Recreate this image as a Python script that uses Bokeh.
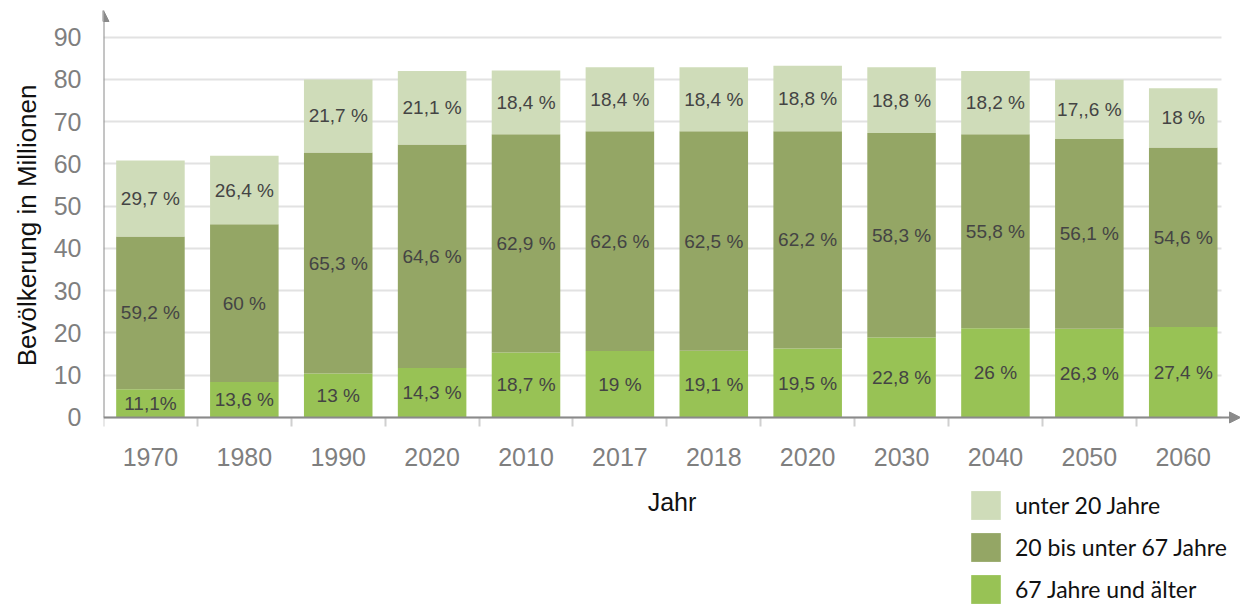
import numpy as np
from bokeh.plotting import figure
from bokeh.models import (ColumnDataSource, FixedTicker, Range1d, Arrow, NormalHead,
                          Legend, LegendItem, LabelSet, Title)
from bokeh.core.properties import value
from bokeh.embed import file_html
from bokeh.resources import INLINE

# ---- data (values in millions) ----
years = ["1970", "1980", "1990", "2020", "2010", "2017", "2018", "2020", "2030", "2040", "2050", "2060"]
old = [6.7, 8.4, 10.4, 11.7, 15.4, 15.7, 15.8, 16.3, 18.9, 21.1, 21.0, 21.4]
mid = [36.1, 37.3, 52.3, 52.9, 51.6, 52.0, 51.9, 51.4, 48.4, 45.9, 44.9, 42.5]
young = [18.0, 16.2, 17.3, 17.4, 15.1, 15.2, 15.2, 15.5, 15.6, 15.0, 14.0, 14.0]
old_pct = ["11,1%", "13,6 %", "13 %", "14,3 %", "18,7 %", "19 %", "19,1 %", "19,5 %", "22,8 %", "26 %", "26,3 %", "27,4 %"]
mid_pct = ["59,2 %", "60 %", "65,3 %", "64,6 %", "62,9 %", "62,6 %", "62,5 %", "62,2 %", "58,3 %", "55,8 %", "56,1 %", "54,6 %"]
young_pct = ["29,7 %", "26,4 %", "21,7 %", "21,1 %", "18,4 %", "18,4 %", "18,4 %", "18,8 %", "18,8 %", "18,2 %", "17,,6 %", "18 %"]
y_ticks = [0, 10, 20, 30, 40, 50, 60, 70, 80, 90]
series_names = ["67 Jahre und älter", "20 bis unter 67 Jahre", "unter 20 Jahre"]
y_title = "Bevölkerung in Millionen"
x_title = "Jahr"

C_OLD = "#98c255"
C_MID = "#94a665"
C_YOUNG = "#cfdcb9"
GRAY = "#8a8a8a"

n = len(years)
xc = np.arange(n) + 0.5
o = np.array(old); m = np.array(mid); yg = np.array(young)

src = ColumnDataSource(dict(
    x=xc, old=o, mid=m, young=yg,
    y_old=o / 2, y_mid=o + m / 2, y_young=o + m + yg / 2,
    t_old=old_pct, t_mid=mid_pct, t_young=young_pct,
))

X_END = 12.11     # axis arrow tip beyond last category
GRID_END = 11.91  # grid lines stop before the arrow
Y_START = -44.26  # room below the axis for labels and legend
Y_END = 96.3
p = figure(width=1240, height=604, output_backend="svg", toolbar_location=None,
           x_range=Range1d(0, X_END), y_range=Range1d(Y_START, Y_END),
           min_border_left=103, min_border_right=0, min_border_top=10, min_border_bottom=0)
p.outline_line_color = None
p.background_fill_color = "white"
p.border_fill_color = "white"

rs = p.vbar_stack(["old", "mid", "young"], x="x", width=0.73, source=src,
                  color=[C_OLD, C_MID, C_YOUNG], line_color=None)

for col, tcol in [("y_old", "t_old"), ("y_mid", "t_mid"), ("y_young", "t_young")]:
    ls = LabelSet(x="x", y=col, text=tcol, source=src, text_align="center",
                  text_baseline="middle", text_font=value("Liberation Sans"),
                  text_font_size=value("19px"), text_color="#444444")
    p.add_layout(ls)

# axes
xa = p.xaxis[0]
xa.fixed_location = 0
xa.ticker = FixedTicker(ticks=list(xc), minor_ticks=list(range(0, n)))
xa.major_label_overrides = {float(v): y for v, y in zip(xc, years)}
xa.axis_line_color = None
xa.major_tick_out = 0
xa.major_tick_in = 0
xa.minor_tick_out = 9
xa.minor_tick_in = 0
xa.minor_tick_line_color = "#d0d0d0"
xa.minor_tick_line_width = 2
xa.major_label_standoff = 22
xa.major_label_text_font = "Liberation Sans"
xa.major_label_text_font_size = "25px"
xa.major_label_text_color = "#7f7f7f"
xa.axis_label = x_title
xa.axis_label_text_font = "Liberation Sans"
xa.axis_label_text_font_size = "25px"
xa.axis_label_text_font_style = "normal"
xa.axis_label_text_color = "#111111"
xa.axis_label_standoff = 18

ya = p.yaxis[0]
ya.ticker = FixedTicker(ticks=y_ticks)
ya.axis_line_color = None
ya.major_tick_out = 0
ya.major_tick_in = 0
ya.minor_tick_out = 0
ya.minor_tick_in = 0
ya.major_label_standoff = 22
ya.major_label_text_font = "Liberation Sans"
ya.major_label_text_font_size = "25px"
ya.major_label_text_color = "#7f7f7f"

ytitle = Title(text=y_title, align="right", offset=74, standoff=18,
               text_font="Liberation Sans", text_font_size="26px",
               text_font_style="normal", text_color="#111111")
p.add_layout(ytitle, "left")

p.xgrid.grid_line_color = None
p.ygrid.grid_line_color = "#e2e2e2"
p.ygrid.grid_line_width = 2
try:
    p.ygrid[0].cross_bounds = (0, GRID_END)
except Exception:
    pass

# axis arrows
p.add_layout(Arrow(end=NormalHead(size=11, fill_color=GRAY, line_color=GRAY),
                   x_start=0, y_start=0, x_end=0, y_end=Y_END,
                   line_color=GRAY, line_width=2))
p.add_layout(Arrow(end=NormalHead(size=11, fill_color=GRAY, line_color=GRAY),
                   x_start=0, y_start=0, x_end=X_END, y_end=0,
                   line_color=GRAY, line_width=2))

legend = Legend(items=[LegendItem(label=series_names[2], renderers=[rs[2]]),
                       LegendItem(label=series_names[1], renderers=[rs[1]]),
                       LegendItem(label=series_names[0], renderers=[rs[0]])],
                location=(864, -3), padding=0, margin=0, spacing=6,
                glyph_width=37, glyph_height=36, label_standoff=11,
                label_text_font="Lato", label_text_font_size="23px",
                label_text_color="#111111", border_line_color=None,
                background_fill_alpha=0)
p.add_layout(legend, "center")

open("out.html", "w").write(file_html(p, INLINE))
